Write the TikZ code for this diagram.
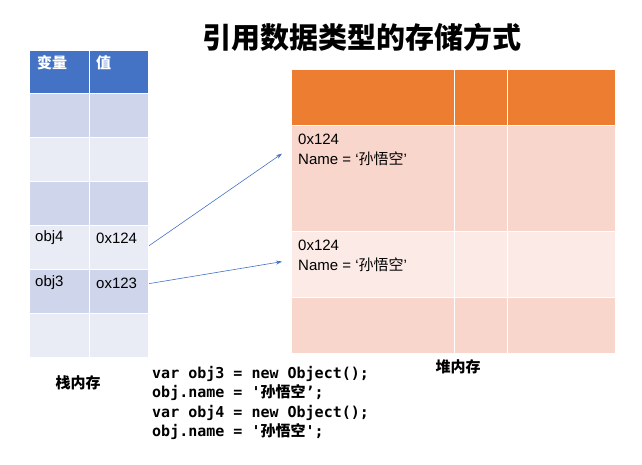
\documentclass[tikz,border=0pt]{standalone}
\usepackage{fontspec}
\setmainfont{Liberation Sans}
\setmonofont{DejaVu Sans Mono}
\newfontfamily\cjk{Noto Sans CJK SC}
\usetikzlibrary{positioning,arrows.meta}
\definecolor{stackH}{HTML}{4472C4}
\definecolor{stackA}{HTML}{CFD5EA}
\definecolor{stackB}{HTML}{E9EBF5}
\definecolor{heapH}{HTML}{ED7D31}
\definecolor{heapA}{HTML}{F8D6CC}
\definecolor{heapB}{HTML}{FBEAE6}
\begin{document}
\begin{tikzpicture}[x=1pt,y=-1pt,
  cell/.style={draw=white, line width=1.2pt, anchor=north west, inner sep=0pt},
  txt/.style={anchor=west, inner sep=0pt, font=\fontsize{15}{20}\selectfont},
  zh/.style={anchor=west, inner sep=0pt, font=\cjk\bfseries\fontsize{15}{18}\selectfont},
  ptr/.style={-{Stealth[length=6pt,width=4pt]}, draw=stackH, line width=0.6pt}]
  \useasboundingbox (0,0) rectangle (642,464);
  % title
  \node[font=\cjk\bfseries\fontsize{29}{34}\selectfont] (title) at (362,37) {引用数据类型的存储方式};
  % stack table
  \node[cell, fill=stackH, minimum width=60pt, minimum height=43pt] (kh) at (29,50) {};
  \node[cell, fill=stackH, minimum width=59pt, minimum height=43pt] (vh) at (89,50) {};
  \foreach \r/\c in {1/stackA,2/stackB,3/stackA,4/stackB,5/stackA,6/stackB} {
    \node[cell, fill=\c, minimum width=60pt, minimum height=44pt] (k\r) at (29,{49+44*\r}) {};
    \node[cell, fill=\c, minimum width=59pt, minimum height=44pt] (v\r) at (89,{49+44*\r}) {};
  }
  \node[zh, text=white] (kht) at (37,63) {变量};
  \node[zh, text=white] (vht) at (96,63) {值};
  \node[txt] (k4t) at (35,238) {obj4};
  \node[txt] (v4t) at (96,238) {0x124};
  \node[txt] (k5t) at (35,283) {obj3};
  \node[txt] (v5t) at (96,283) {ox123};
  \node[zh, anchor=center] (stack) at (78,383) {栈内存};
  % heap table
  \node[cell, fill=heapH, minimum width=163pt, minimum height=56pt] (hh) at (291,69) {};
  \node[cell, fill=heapH, minimum width=53pt, minimum height=56pt] at (454,69) {};
  \node[cell, fill=heapH, minimum width=108pt, minimum height=56pt] at (507,69) {};
  \foreach \r/\t/\h/\c in {1/125/106/heapA,2/231/66/heapB,3/297/56/heapA} {
    \node[cell, fill=\c, minimum width=163pt, minimum height=\h pt] (h\r) at (291,\t) {};
    \node[cell, fill=\c, minimum width=53pt, minimum height=\h pt] at (454,\t) {};
    \node[cell, fill=\c, minimum width=108pt, minimum height=\h pt] at (507,\t) {};
  }
  \node[txt, anchor=north west, align=left] (h1t) at (298,134) {0x124\\Name = ‘{\cjk 孙悟空}’};
  \node[txt, anchor=north west, align=left] (h2t) at (298,240) {0x124\\Name = ‘{\cjk 孙悟空}’};
  \node[zh, anchor=center] (heap) at (458,367) {堆内存};
  % pointers
  \draw[ptr] ([yshift=2pt]v4.east) -- ([xshift=-9pt,yshift=25pt]h1.west);
  \draw[ptr] ([yshift=8pt]v5.east) -- ([xshift=-9pt,yshift=3pt]h2.west);
  % code
  \node[anchor=north west, align=left, inner sep=0pt,
    font=\ttfamily\bfseries\fontsize{15}{19.5}\selectfont] (code) at (152,366)
    {var obj3 = new Object();\\obj.name = '{\cjk\bfseries 孙悟空}’;\\var obj4 = new Object();\\obj.name = '{\cjk\bfseries 孙悟空}';};
\end{tikzpicture}
\end{document}
